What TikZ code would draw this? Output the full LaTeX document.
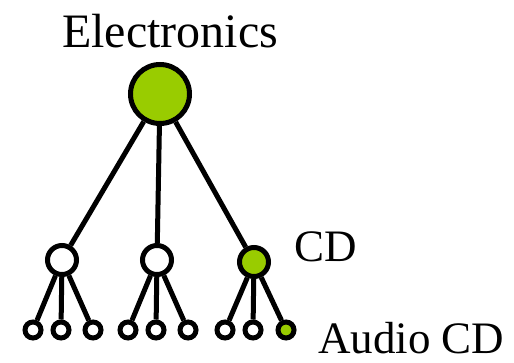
\documentclass[tikz,border=0pt]{standalone}
\usepackage{fontspec}
\setmainfont{Liberation Serif}
\definecolor{lime}{HTML}{99CC00}
\begin{document}
\begin{tikzpicture}[x=1pt,y=-1pt,
  lw/.style={line width=5pt},
  big/.style={circle,draw,lw,inner sep=0pt,minimum size=59pt},
  mid/.style={circle,draw,lw,inner sep=0pt,minimum size=29pt,fill=white},
  leaf/.style={circle,draw,lw,inner sep=0pt,minimum size=16pt,fill=white},
  on/.style={fill=lime},
  lbl/.style={anchor=base west,inner sep=0pt,text depth=0pt}]
\useasboundingbox (0,0) rectangle (514,363);
\node[big,on] (root) at (160,94) {};
\node[mid] (m1) at (62,260) {};
\node[mid] (m2) at (157,260) {};
\node[mid,on] (m3) at (254,262) {};
\node[leaf] (l1) at (33,330) {};
\node[leaf] (l2) at (61,330) {};
\node[leaf] (l3) at (93,330) {};
\node[leaf] (l4) at (128,330) {};
\node[leaf] (l5) at (156,330) {};
\node[leaf] (l6) at (188,330) {};
\node[leaf] (l7) at (225,330) {};
\node[leaf] (l8) at (253,330) {};
\node[leaf,on] (l9) at (286,330) {};
\foreach \m in {m1,m2,m3} \draw[lw] (root) -- (\m);
\draw[lw] (m1) -- (l1) (m1) -- (l2) (m1) -- (l3);
\draw[lw] (m2) -- (l4) (m2) -- (l5) (m2) -- (l6);
\draw[lw] (m3) -- (l7) (m3) -- (l8) (m3) -- (l9);
\node[lbl,font=\fontsize{48}{52}\selectfont] (t1) at (62,48) {Electronics};
\node[lbl,font=\fontsize{45}{50}\selectfont] (t2) at (294,262) {CD};
\node[lbl,font=\fontsize{45}{50}\selectfont] (t3) at (318,353) {Audio CD};
\end{tikzpicture}
\end{document}
